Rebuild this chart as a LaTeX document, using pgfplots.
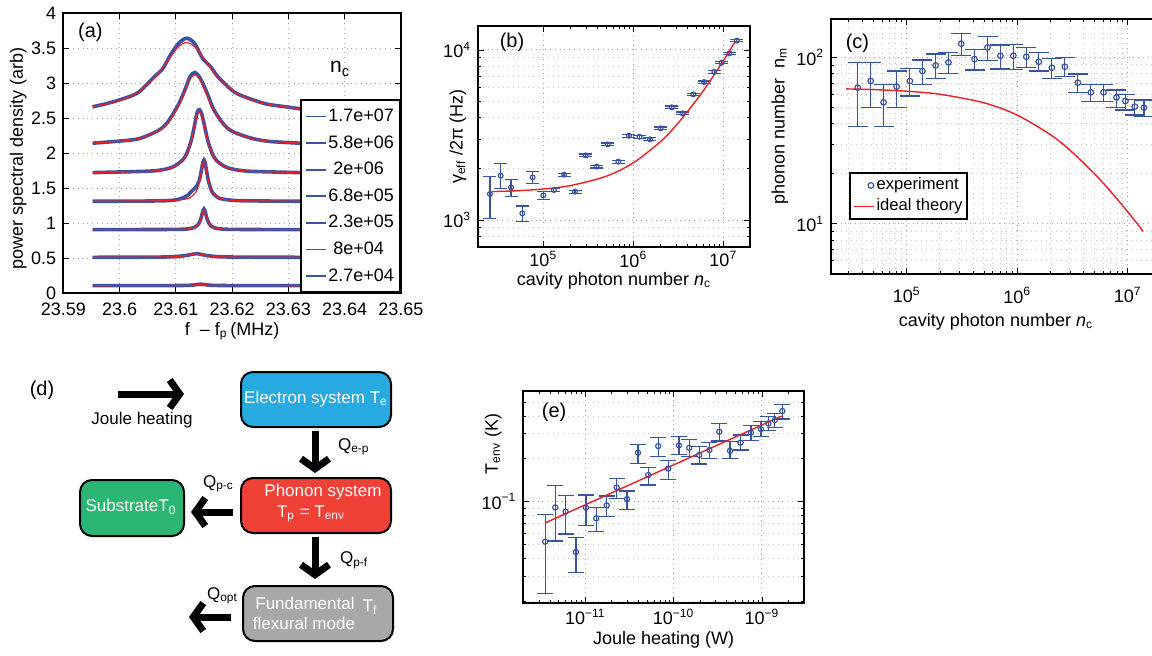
\documentclass[border=0pt]{standalone}
\usepackage{fontspec}
\setmainfont{Liberation Sans}
\usepackage{pgfplots}
\usepackage{pgfplotstable}
\pgfplotsset{compat=1.18}
\usetikzlibrary{arrows.meta}

\definecolor{dblue}{RGB}{57,83,164}
\definecolor{fitred}{RGB}{236,30,36}
\definecolor{elblue}{RGB}{39,170,225}
\definecolor{phred}{RGB}{239,65,54}
\definecolor{subgreen}{RGB}{43,182,115}
\definecolor{modgray}{RGB}{167,168,170}

\pgfplotsset{
  every axis/.append style={
    scale only axis, anchor=south west,
    font=\fontsize{9}{11}\selectfont,
    /pgf/number format/assume math mode=true,
    tick align=inside,
    axis line style={line width=1pt},
    grid style={dotted, gray!70, line width=0.5pt},
    minor grid style={dotted, gray!45, line width=0.5pt},
    major tick length=3pt, minor tick length=1.5pt,
    tick style={black, line width=0.4pt},
  },
  ebar/.style 2 args={only marks, mark=o, mark size=#1, dblue,
    mark options={line width=0.6pt, solid},
    error bars/.cd, y dir=both, y explicit,
    error bar style={line width=0.6pt, dblue},
    error mark options={rotate=90, dblue, line width=0.6pt, mark size=#2}},
  dat/.style={dblue, line width=1.8pt, smooth},
  fit/.style={fitred, line width=0.6pt, smooth, forget plot},
  shortline/.style={legend image code/.code={\draw[##1] (0pt,0pt) -- (10pt,0pt);}},
}

% ---------- (a) spectra: x, fit, data ----------
\pgfplotstableread{
x fit dat
23.5952 2.666 2.660
23.59765 2.701 2.705
23.6005 2.764 2.772
23.60335 2.874 2.866
23.6062 3.070 3.092
23.60763 3.213 3.198
23.60905 3.376 3.402
23.61048 3.520 3.565
23.6119 3.580 3.640
23.61333 3.520 3.566
23.61475 3.376 3.352
23.61618 3.213 3.232
23.6176 3.070 3.078
23.62045 2.874 2.868
23.6233 2.764 2.771
23.62615 2.701 2.699
23.6290 2.662 2.666
23.6322 2.635 2.630
}\cA
\pgfplotstableread{
x fit dat
23.5952 2.142 2.140
23.6002 2.169 2.172
23.6035 2.211 2.206
23.6068 2.312 2.318
23.60845 2.421 2.430
23.6101 2.615 2.640
23.61093 2.756 2.772
23.61175 2.918 2.930
23.61258 3.060 3.100
23.6134 3.120 3.150
23.61423 3.060 3.080
23.61505 2.918 2.950
23.61588 2.756 2.790
23.6167 2.615 2.625
23.61835 2.421 2.425
23.6200 2.312 2.310
23.6233 2.211 2.214
23.6266 2.169 2.166
23.6322 2.140 2.140
}\cB
\pgfplotstableread{
x fit dat
23.5952 1.720 1.720
23.6052 1.739 1.741
23.6082 1.767 1.770
23.6097 1.804 1.810
23.6112 1.892 1.900
23.61195 1.987 1.995
23.6127 2.158 2.170
23.61308 2.281 2.300
23.61345 2.423 2.450
23.61383 2.548 2.590
23.6142 2.600 2.620
23.61458 2.548 2.560
23.61495 2.423 2.440
23.61533 2.281 2.300
23.6157 2.158 2.170
23.61645 1.987 1.995
23.6172 1.892 1.895
23.6187 1.804 1.806
23.6202 1.767 1.768
23.6232 1.739 1.739
23.6322 1.720 1.720
}\cC
\pgfplotstableread{
x fit dat
23.5952 1.311 1.311
23.6086 1.319 1.320
23.6118 1.344 1.380
23.6126 1.367 1.440
23.6134 1.424 1.500
23.6138 1.485 1.540
23.6142 1.595 1.620
23.6144 1.675 1.690
23.6146 1.766 1.780
23.6148 1.846 1.860
23.6150 1.880 1.900
23.6152 1.846 1.860
23.6154 1.766 1.770
23.6156 1.675 1.680
23.6158 1.595 1.600
23.6162 1.485 1.490
23.6166 1.424 1.425
23.6174 1.367 1.368
23.6182 1.344 1.344
23.6214 1.319 1.319
23.6322 1.311 1.311
}\cD
\pgfplotstableread{
x fit dat
23.5952 0.905 0.905
23.6100 0.909 0.909
23.6126 0.921 0.922
23.6132 0.933 0.935
23.6138 0.961 0.965
23.6141 0.991 0.995
23.6144 1.045 1.050
23.61455 1.084 1.090
23.6147 1.129 1.140
23.61485 1.168 1.180
23.6150 1.185 1.200
23.61515 1.168 1.180
23.6153 1.129 1.135
23.61545 1.084 1.088
23.6156 1.045 1.048
23.6159 0.991 0.993
23.6162 0.961 0.962
23.6168 0.933 0.933
23.6174 0.921 0.921
23.6200 0.909 0.909
23.6322 0.905 0.905
}\cE
\pgfplotstableread{
x fit dat
23.5952 0.510 0.510
23.6047 0.512 0.512
23.6083 0.515 0.515
23.6101 0.520 0.521
23.6119 0.535 0.537
23.6128 0.550 0.552
23.6137 0.560 0.562
23.6146 0.550 0.550
23.6155 0.535 0.535
23.6173 0.520 0.520
23.6191 0.515 0.515
23.6227 0.512 0.512
23.6322 0.510 0.510
}\cF
\pgfplotstableread{
x fit dat
23.5952 0.105 0.105
23.6084 0.106 0.106
23.6120 0.109 0.109
23.6132 0.115 0.115
23.6144 0.125 0.126
23.6156 0.115 0.115
23.6168 0.109 0.109
23.6204 0.106 0.106
23.6322 0.105 0.105
}\cG

% ---------- (b) linewidth vs photon number ----------
\pgfplotstableread{
x y ep em
2.55e4 1422 377 399
3.36e4 1824 330 289
4.38e4 1556 178 185
5.84e4 1094 115 117
7.61e4 1782 143 139
1.00e5 1397 71 73
1.31e5 1501 35 35
1.70e5 1848 40 40
2.25e5 1468 30 30
2.95e5 2400 45 45
3.91e5 2061 40 40
5.19e5 2786 50 50
6.81e5 2205 45 45
8.95e5 3133 60 60
1.17e6 3090 60 60
1.53e6 2983 60 60
2.01e6 3462 60 60
2.67e6 4600 80 80
3.53e6 4240 80 80
4.64e6 5480 90 90
6.10e6 6480 100 100
7.94e6 7425 120 120
9.58e6 8420 130 130
1.17e7 9550 150 150
1.41e7 11350 180 180
}\tabB
\pgfplotstableread{
x y
2.67e4 1469
5e4 1486
1e5 1522
2e5 1594
5e5 1810
1e6 2170
2e6 2890
3e6 3610
5e6 5050
7e6 6490
1e7 8650
1.36e7 11240
}\fitB

% ---------- (c) phonon number ----------
\pgfplotstableread{
x y ep em
3.61e4 65.8 27.5 27.4
4.73e4 72.1 21.2 22.0
6.19e4 53.7 15.2 15.3
8.12e4 66.7 16.1 16.6
1.07e5 72.1 13.8 13.5
1.39e5 82.8 13.6 13.9
1.83e5 89.5 15.2 14.7
2.39e5 93.3 13.9 13.1
3.11e5 120.8 18.5 18.5
4.11e5 97.7 14.0 13.7
5.39e5 114.8 18.2 19.3
7.05e5 102.3 16.3 17.2
9.23e5 102.3 16.7 17.3
1.21e6 100.9 13.9 14.2
1.57e6 94.2 13.0 11.4
2.06e6 86.7 11.9 11.9
2.70e6 87.9 12.1 11.3
3.54e6 70.5 8.9 9.1
4.64e6 61.7 7.2 7.5
6.03e6 61.7 7.2 7.5
7.91e6 57.5 6.2 7.4
9.53e6 54.7 5.3 6.4
1.16e7 50.6 5.4 5.5
1.40e7 49.9 5.6 5.8
}\tabC
\pgfplotstableread{
x y
2.84e4 64.66
5e4 64.05
1e5 62.65
2e5 60.04
5e5 53.37
1e6 45.03
2e6 34.31
3e6 27.71
5e6 20.01
7e6 15.66
1e7 11.81
1.38e7 9.01
}\fitC

% ---------- (e) environment temperature ----------
\pgfplotstableread{
x y ep em
3.52e-12 0.0524 0.0291 0.0297
4.57e-12 0.0912 0.0383 0.0382
5.99e-12 0.0851 0.0249 0.0258
7.84e-12 0.0443 0.0118 0.0126
1.02e-11 0.0908 0.0206 0.0230
1.33e-11 0.0764 0.0148 0.0149
1.75e-11 0.0942 0.0154 0.0157
2.27e-11 0.126 0.019 0.0205
2.97e-11 0.1044 0.0146 0.0161
3.95e-11 0.221 0.033 0.035
5.16e-11 0.154 0.020 0.023
6.70e-11 0.246 0.037 0.037
8.70e-11 0.171 0.025 0.027
1.15e-10 0.249 0.037 0.033
1.50e-10 0.239 0.036 0.030
1.95e-10 0.213 0.030 0.029
2.54e-10 0.231 0.031 0.031
3.29e-10 0.310 0.045 0.043
4.35e-10 0.228 0.036 0.028
5.73e-10 0.260 0.034 0.029
7.50e-10 0.306 0.036 0.035
9.75e-10 0.324 0.041 0.035
1.18e-9 0.355 0.040 0.037
1.40e-9 0.375 0.042 0.044
1.70e-9 0.434 0.051 0.053
}\tabE

\begin{document}
\begin{tikzpicture}
\path[use as bounding box] (0,0) rectangle (576pt,-327.5pt);

% ================= (a) =================
\begin{axis}[at={(31.65pt,-146.5pt)}, width=168.85pt, height=140pt,
  xmin=23.59, xmax=23.65, ymin=0, ymax=4,
  xtick={23.59,23.6,23.61,23.62,23.63,23.64,23.65},
  ytick={0,0.5,1,1.5,2,2.5,3,3.5,4},
  xticklabel style={/pgf/number format/precision=2, yshift=-1.5pt},
  grid=major,
  ylabel={power spectral density (arb)},
  ylabel style={at={([xshift=-22.6pt]rel axis cs:0,0.48)}, anchor=center},
  xlabel={f\ \ – f\textsubscript{p}\,(MHz)},
  xlabel style={at={([yshift=-19pt]rel axis cs:0.5,0)}, anchor=center},
  legend style={at={(1,0)}, anchor=south east, draw=black, line width=1pt,
    fill=white, font=\fontsize{9}{10}\selectfont, row sep=2.3pt,
    inner xsep=2pt, inner ysep=2.5pt,
    nodes={inner sep=1pt, text height=7pt, text depth=2pt}},
  legend cell align=left,
  legend image code/.code={\draw[#1, line width=0.9pt] (0pt,0pt) -- (10pt,0pt);},
]
\addplot[dat] table[x=x,y=dat] {\cA};
\addplot[fit] table[x=x,y=fit] {\cA};
\addlegendentry{1.7e+07}
\addplot[dat] table[x=x,y=dat] {\cB};
\addplot[fit] table[x=x,y=fit] {\cB};
\addlegendentry{5.8e+06}
\addplot[dat] table[x=x,y=dat] {\cC};
\addplot[fit] table[x=x,y=fit] {\cC};
\addlegendentry{\ 2e+06}
\addplot[dat] table[x=x,y=dat] {\cD};
\addplot[fit] table[x=x,y=fit] {\cD};
\addlegendentry{6.8e+05}
\addplot[dat] table[x=x,y=dat] {\cE};
\addplot[fit] table[x=x,y=fit] {\cE};
\addlegendentry{2.3e+05}
\addplot[dat] table[x=x,y=dat] {\cF};
\addplot[fit] table[x=x,y=fit] {\cF};
\addlegendentry{\ 8e+04}
\addplot[dat] table[x=x,y=dat] {\cG};
\addplot[fit] table[x=x,y=fit] {\cG};
\addlegendentry{2.7e+04}
\node[font=\fontsize{10.5}{12}\selectfont] at (rel axis cs:0.82,0.80) {n\textsubscript{c}};
\node[font=\fontsize{10}{12}\selectfont] at (rel axis cs:0.08,0.93) {(a)};
\end{axis}

% ================= (b) =================
\begin{axis}[at={(239pt,-123.5pt)}, width=136pt, height=110.5pt,
  axis line style={line width=0.7pt},
  xmode=log, ymode=log, xmin=1.88e4, xmax=1.98e7, ymin=694, ymax=13840,
  xtick={1e5,1e6,1e7},
  xticklabels={10\textsuperscript{5},10\textsuperscript{6},10\textsuperscript{7}},
  xticklabel style={yshift=1.5pt},
  ytick={1e3,1e4},
  yticklabels={10\textsuperscript{3},10\textsuperscript{4}},
  minor xtick={}, minor ytick={700,800,900,2000,3000,4000,5000,6000,7000,8000,9000},
  xmajorgrids, ymajorgrids, yminorgrids,
  ylabel={γ\textsubscript{eff} /2π (Hz)},
  ylabel style={at={([xshift=-10pt]rel axis cs:0,0.5)}, anchor=center},
  xlabel={cavity photon number \textit{n}\textsubscript{c}},
  xlabel style={at={([yshift=-17pt]rel axis cs:0.5,0)}, anchor=center},
]
\addplot[ebar={1.2pt}{3.25pt}] table[x=x,y=y,y error plus=ep,y error minus=em] {\tabB};
\addplot[fitred, line width=0.7pt, smooth] table[x=x,y=y] {\fitB};
\node[font=\fontsize{10}{12}\selectfont] at (rel axis cs:0.125,0.925) {(b)};
\end{axis}

% ================= (c) =================
\begin{axis}[at={(415.5pt,-137pt)}, width=165pt, height=127.5pt,
  xmode=log, ymode=log, xmin=2.07e4, xmax=2.0e7, ymin=5, ymax=170,
  xtick={1e5,1e6,1e7},
  xticklabels={10\textsuperscript{5},10\textsuperscript{6},10\textsuperscript{7}},
  xticklabel style={yshift=-3pt},
  ytick={10,100},
  yticklabels={10\textsuperscript{1},10\textsuperscript{2}},
  minor xtick={3e4,4e4,5e4,6e4,7e4,8e4,9e4,2e5,3e5,4e5,5e5,6e5,7e5,8e5,9e5,2e6,3e6,4e6,5e6,6e6,7e6,8e6,9e6},
  minor ytick={6,7,8,9,20,30,40,50,60,70,80,90},
  grid=both,
  ylabel={phonon number\ \ n\textsubscript{m}},
  ylabel style={at={([xshift=-25.5pt]rel axis cs:0,0.58)}, anchor=center},
  xlabel={cavity photon number \textit{n}\textsubscript{c}},
  xlabel style={at={([yshift=-24pt]rel axis cs:0.5,0)}, anchor=center},
  legend style={at={(rel axis cs:0.055,0.212)}, anchor=south west, draw=black,
    line width=1pt, fill=white, font=\fontsize{8.3}{9}\selectfont,
    inner xsep=1.5pt, inner ysep=1pt, row sep=0pt,
    nodes={inner sep=1pt, text height=6.5pt, text depth=2pt}},
  legend cell align=left,
]
\addplot[ebar={1.4pt}{5pt}]
  table[x=x,y=y,y error plus=ep,y error minus=em] {\tabC};
\addlegendentry{experiment}
\addplot[fitred, line width=0.7pt, smooth, shortline] table[x=x,y=y] {\fitC};
\addlegendentry{ideal theory}
\node[font=\fontsize{10}{12}\selectfont] at (rel axis cs:0.08,0.905) {(c)};
\end{axis}

% ================= (e) =================
\begin{axis}[at={(261.65pt,-301.35pt)}, width=140.35pt, height=105.85pt,
  xmode=log, ymode=log, xmin=1.99e-12, xmax=2.99e-9, ymin=0.0195, ymax=0.6,
  xtick={1e-11,1e-10,1e-9},
  xticklabels={10\textsuperscript{−11},10\textsuperscript{−10},10\textsuperscript{−9}},
  xticklabel style={yshift=0.5pt},
  ytick={0.1}, yticklabels={10\textsuperscript{−1}},
  minor xtick={2e-12,3e-12,4e-12,5e-12,6e-12,7e-12,8e-12,9e-12,2e-11,3e-11,4e-11,5e-11,6e-11,7e-11,8e-11,9e-11,2e-10,3e-10,4e-10,5e-10,6e-10,7e-10,8e-10,9e-10,2e-9},
  minor ytick={0.02,0.03,0.04,0.05,0.06,0.07,0.08,0.09,0.2,0.3,0.4,0.5},
  xmajorgrids, ymajorgrids, yminorgrids,
  ylabel={T\textsubscript{env} (K)},
  ylabel style={at={([xshift=-15pt]rel axis cs:0,0.75)}, anchor=center},
  xlabel={Joule heating (W)},
  xlabel style={at={([yshift=-18.5pt]rel axis cs:0.5,0)}, anchor=center},
]
\addplot[ebar={1.3pt}{4pt}] table[x=x,y=y,y error plus=ep,y error minus=em] {\tabE};
\addplot[fitred, line width=0.7pt] coordinates {(3.55e-12,0.0711) (1.67e-9,0.400)};
\node[font=\fontsize{10}{12}\selectfont] at (rel axis cs:0.11,0.9) {(e)};
\end{axis}

% ================= (d) diagram =================
\begin{scope}[x=0.5pt, y=-0.5pt, font=\fontsize{8.5}{10}\selectfont]
\node[font=\fontsize{10}{12}\selectfont] at (42,390) {(d)};
\draw[line width=3.5pt, -{Straight Barb[length=5pt,width=14pt]}] (118,394) -- (184,394);
\node at (142,420) {Joule heating};
\draw[fill=elblue, line width=1pt, rounded corners=6pt] (241,372) rectangle (391,427);
\node[white] at (316,399.5) {Electron system T\textsubscript{e}};
\draw[fill=phred, line width=1pt, rounded corners=6pt] (241,478) rectangle (391,533);
\node[white] at (323,492) {Phonon system};
\node[white] at (311,514) {T\textsubscript{p} = T\textsubscript{env}};
\draw[fill=subgreen, line width=1pt, rounded corners=6pt] (80,480) rectangle (184,536);
\node[white] at (131,507) {SubstrateT\textsubscript{0}};
\draw[fill=modgray, line width=1pt, rounded corners=6pt] (243,586) rectangle (393,641);
\node[white] at (305,603) {Fundamental};
\node[white] at (304,623) {flexural mode};
\node[white] at (370,607) {T\textsubscript{f}};
\draw[line width=3.5pt, -{Straight Barb[length=5pt,width=14pt]}] (315,431) -- (315,473);
\draw[line width=3.5pt, -{Straight Barb[length=5pt,width=14pt]}] (315,537) -- (315,579);
\draw[line width=3.5pt, -{Straight Barb[length=5pt,width=14pt]}] (233,512) -- (191,512);
\draw[line width=3.5pt, -{Straight Barb[length=5pt,width=14pt]}] (231,617) -- (189,617);
\node[anchor=west] at (331,447) {Q\textsubscript{e-p}};
\node[anchor=west] at (196,484) {Q\textsubscript{p-c}};
\node[anchor=west] at (333,560) {Q\textsubscript{p-f}};
\node[anchor=west] at (200,596) {Q\textsubscript{opt}};
\end{scope}
\end{tikzpicture}
\end{document}
